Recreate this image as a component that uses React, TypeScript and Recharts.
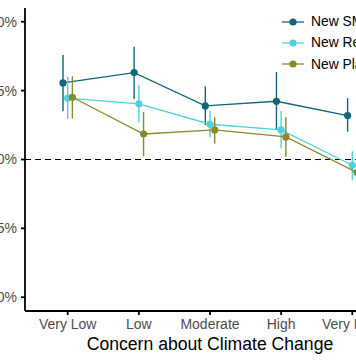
import React from 'react';
import { ComposedChart, Line, ErrorBar, XAxis, YAxis, ReferenceLine } from 'recharts';

const categories = ['Very Low', 'Low', 'Moderate', 'High', 'Very High'];

const smMean = [5.56, 6.31, 3.89, 4.23, 3.19];
const smLow = [3.5, 4.4, 2.5, 2.15, 2.02];
const smHigh = [7.58, 8.18, 5.3, 6.36, 4.45];

const reMean = [4.45, 4.04, 2.56, 2.15, -0.42];
const reLow = [2.95, 2.68, 1.61, 0.79, -1.5];
const reHigh = [6.02, 5.42, 3.53, 3.53, 0.6];

const plMean = [4.52, 1.85, 2.15, 1.64, -0.95];
const plLow = [2.97, 0.23, 1.15, 0.2, -1.9];
const plHigh = [6.05, 3.45, 3.07, 3.07, -0.1];

const yTicks = [-10, -5, 0, 5, 10];

const series = [
  { name: 'New SMRs', color: '#11667a', mean: smMean, low: smLow, high: smHigh, dodge: -0.066 },
  { name: 'New Reactors', color: '#4fd2db', mean: reMean, low: reLow, high: reHigh, dodge: 0 },
  { name: 'New Plants', color: '#8a8a2a', mean: plMean, low: plLow, high: plHigh, dodge: 0.066 },
];

const FONT = '"Liberation Sans", Arial, sans-serif';

function build(s: typeof series[number]) {
  return s.mean.map((m, i) => ({
    x: i + s.dodge,
    y: m,
    err: [m - s.low[i], s.high[i] - m],
  }));
}

export default function App() {
  return (
    <div
      style={{
        position: 'fixed',
        left: 0,
        top: 0,
        width: 356,
        height: 364,
        overflow: 'hidden',
        background: '#fff',
        fontFamily: FONT,
      }}
    >
      <ComposedChart width={395} height={364} margin={{ top: 8, right: 0, bottom: 0, left: 0 }}>
        <XAxis
          dataKey="x"
          type="number"
          domain={[-0.6, 4.6]}
          ticks={[0, 1, 2, 3, 4]}
          tickFormatter={(v: number) => categories[v]}
          height={53}
          stroke="#000"
          strokeWidth={1.8}
          tickSize={4}
          tickMargin={4}
          tick={{ fill: '#4d4d4d', fontSize: 14, fontFamily: FONT }}
          interval={0}
          allowDataOverflow
          label={{
            value: 'Concern about Climate Change',
            position: 'insideBottom',
            offset: 14,
            fill: '#000',
            fontSize: 17.6,
            fontFamily: FONT,
          }}
        />
        <YAxis
          type="number"
          domain={[-11, 11]}
          ticks={yTicks}
          tickFormatter={(v: number) => `${v}%`}
          width={25}
          stroke="#000"
          strokeWidth={1.8}
          tickSize={4}
          tickMargin={4}
          tick={{ fill: '#4d4d4d', fontSize: 14, fontFamily: FONT }}
          allowDataOverflow
        />
        <ReferenceLine y={0} stroke="#000" strokeWidth={1.1} strokeDasharray="6 4" />
        {series.map((s) => (
          <Line
            key={s.name}
            data={build(s)}
            dataKey="y"
            stroke={s.color}
            strokeWidth={1.3}
            dot={{ r: 3.6, fill: s.color, stroke: s.color, strokeWidth: 0 }}
            activeDot={false}
            isAnimationActive={false}
          >
            <ErrorBar dataKey="err" direction="y" width={0} stroke={s.color} strokeWidth={1.4} />
          </Line>
        ))}
      </ComposedChart>
      <div style={{ position: 'absolute', left: 280, top: 11 }}>
        {series.map((s) => (
          <div key={s.name} style={{ display: 'flex', alignItems: 'center', height: 21.3, whiteSpace: 'nowrap' }}>
            <svg width={26} height={14} style={{ marginRight: 5 }}>
              <line x1={2} x2={24} y1={7} y2={7} stroke={s.color} strokeWidth={1.3} />
              <circle cx={13} cy={7} r={3.6} fill={s.color} />
            </svg>
            <span style={{ fontSize: 13.8, color: '#000' }}>{s.name}</span>
          </div>
        ))}
      </div>
    </div>
  );
}
